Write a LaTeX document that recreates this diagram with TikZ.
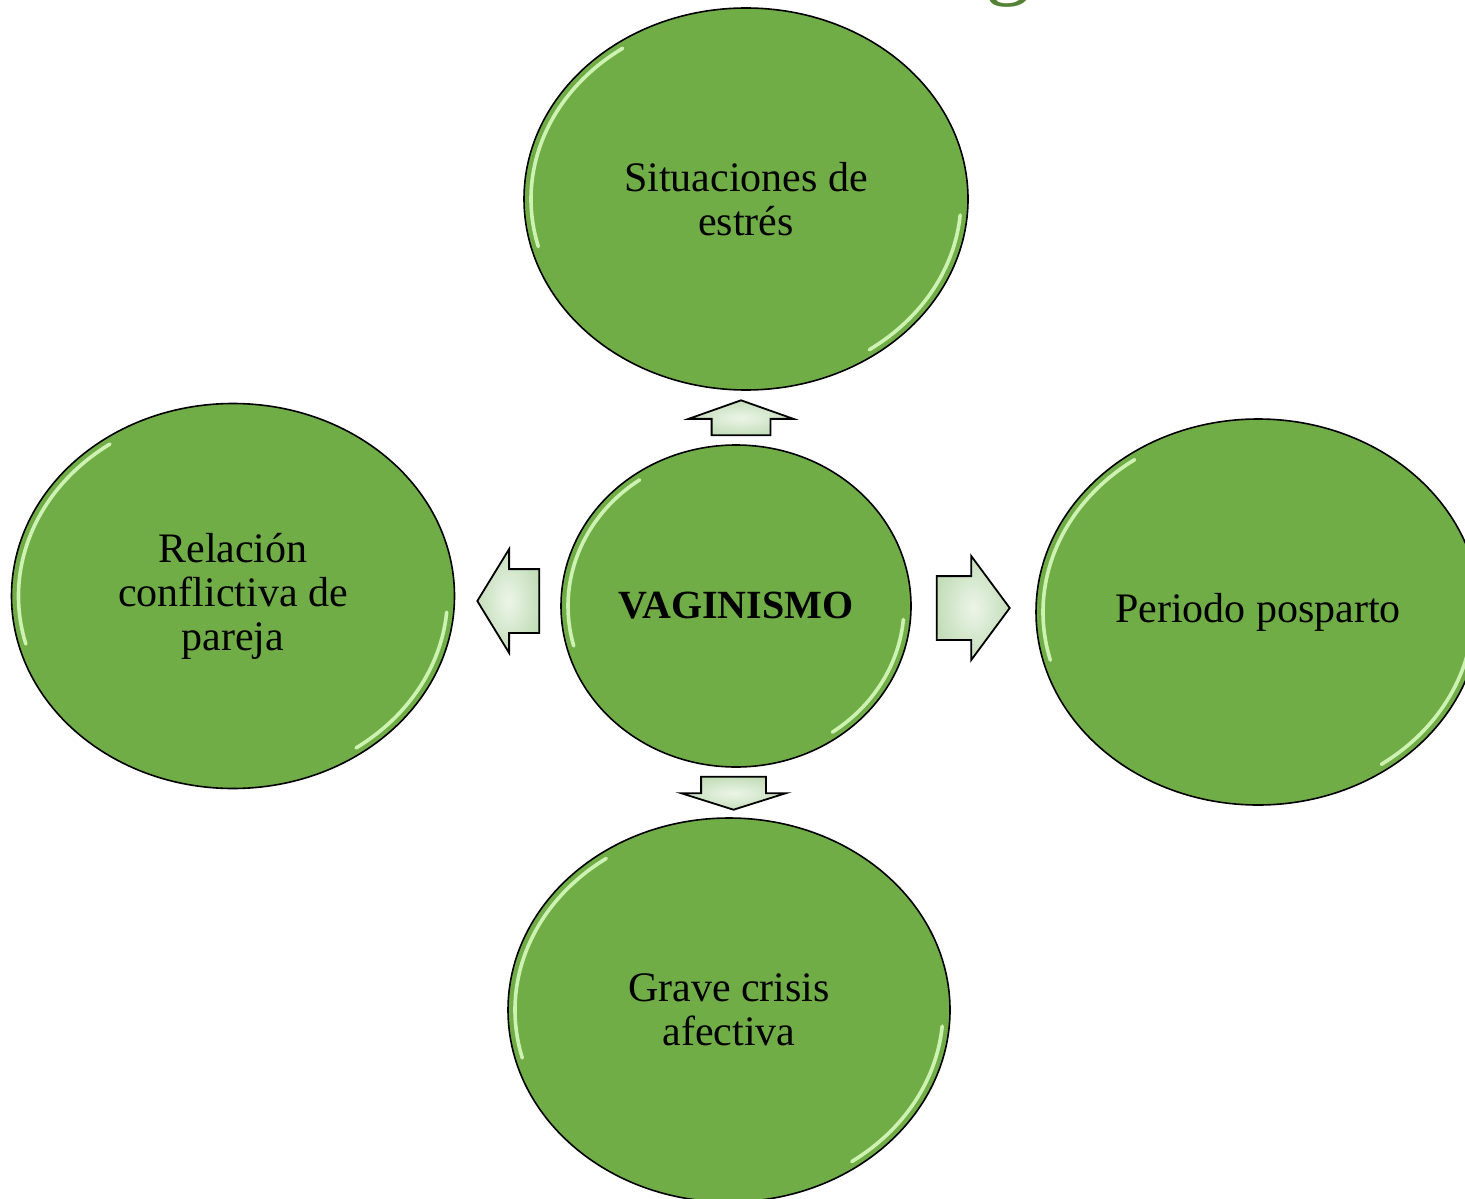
\documentclass[tikz,border=0pt]{standalone}
\usepackage{fontspec}
\setmainfont{Liberation Serif}
\usetikzlibrary{shapes.geometric, shapes.arrows, calc, positioning}

\definecolor{leafgreen}{RGB}{112,173,71}
\definecolor{titlegreen}{RGB}{84,130,53}
\definecolor{mint}{RGB}{196,222,186}
\definecolor{mintlight}{RGB}{236,245,232}
\definecolor{glintgreen}{RGB}{205,242,178}

\tikzset{
    glint/.style={glintgreen, line width=1.8pt, line cap=round},
    cause/.style={
        ellipse, draw=black, line width=.8pt, fill=leafgreen,
        inner sep=0pt, align=center,
        font=\fontsize{21}{22}\selectfont,
        path picture={
            \draw[glint] let \p1=(path picture bounding box.north east),
                \p2=(path picture bounding box.center),
                \n1={\x1-\x2-3.5pt}, \n2={\y1-\y2-3.5pt} in
                ($(\p2)+(125:\n1 and \n2)$)
                    arc[start angle=125, end angle=195, x radius=\n1, y radius=\n2]
                ($(\p2)+(305:\n1 and \n2)$)
                    arc[start angle=305, end angle=355, x radius=\n1, y radius=\n2];
        }
    },
    blockarrow/.style={
        single arrow, draw=black, line width=.9pt,
        inner color=mintlight, outer color=mint,
        minimum width=51pt, single arrow head extend=10pt
    },
    flat/.style={inner xsep=0pt, inner ysep=15.5pt},
    upright/.style={inner xsep=#1, inner ysep=0pt}
}

\begin{document}
\begin{tikzpicture}[x=0.5pt, y=-0.5pt]
    \path[use as bounding box, clip] (0,0) rectangle (1465,1198);

    % title, cut at the top edge
    \node (title) at (1008,-12) [anchor=base, text=titlegreen, font=\fontsize{46}{46}\selectfont] {g};

    % causes round the centre
    \node (core)   at (736,606)  [cause, minimum width=175pt, minimum height=161pt, font=\fontsize{20}{22}\selectfont\bfseries] {VAGINISMO};
    \node (top)    at (746,199)  [cause, minimum width=222pt, minimum height=191pt] {Situaciones de\\estrés};
    \node (left)   at (233,596)  [cause, minimum width=221.5pt, minimum height=192.5pt] {Relación\\conflictiva de\\pareja};
    \node (right)  at (1258,612) [cause, minimum width=222pt, minimum height=193pt] {Periodo posparto};
    \node (bottom) at (729,1010) [cause, minimum width=221pt, minimum height=192pt] {Grave crisis\\afectiva};

    % arrows from the centre to each cause
    \node (toTop)    [blockarrow, upright=14.25pt, above=4pt of core, anchor=tail, xshift=2.5pt, shape border rotate=90,
                      single arrow head extend=11.5pt, minimum height=17.5pt, single arrow tip angle=141] {};
    \node (toLeft)   [blockarrow, flat, left=10pt of core, anchor=tail, yshift=2.5pt, shape border rotate=180,
                      minimum height=31pt, single arrow tip angle=117] {};
    \node (toRight)  [blockarrow, flat, right=12pt of core, anchor=tail, yshift=-1pt, shape border rotate=0,
                      minimum height=36.5pt, single arrow tip angle=107] {};
    \node (toBottom) [blockarrow, upright=15.75pt, below=4pt of core, anchor=tail, xshift=-1.25pt, shape border rotate=270,
                      minimum height=16.5pt, single arrow tip angle=145] {};
\end{tikzpicture}
\end{document}
